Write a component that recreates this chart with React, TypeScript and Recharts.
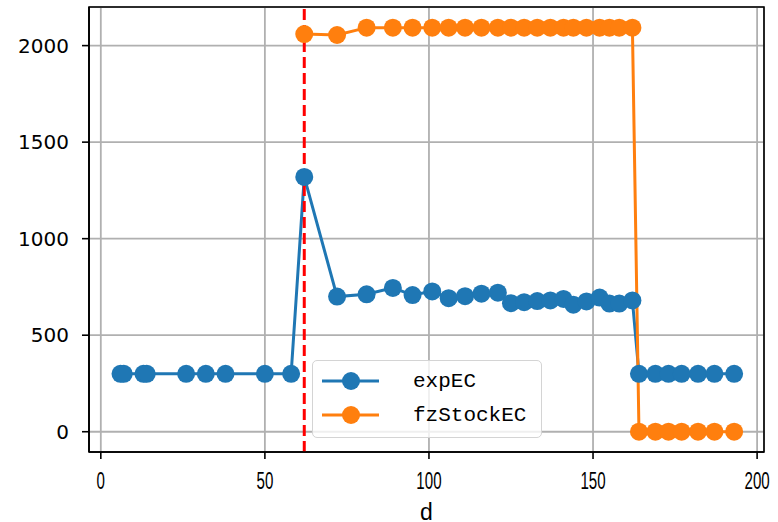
import React from "react";
import {
  LineChart, Line, XAxis, YAxis, CartesianGrid, ReferenceLine, ReferenceArea,
} from "recharts";

const days = [6, 7, 13, 14, 26, 32, 38, 50, 58, 62, 72, 81, 89, 95, 101, 106, 111, 116, 121, 125, 129, 133, 137, 141, 144, 148, 152, 155, 158, 162, 164, 169, 173, 177, 182, 187, 193];
const expEC = [300, 300, 300, 300, 300, 300, 300, 300, 300, 1320, 700, 712, 745, 708, 727, 692, 702, 715, 720, 666, 671, 677, 680, 688, 658, 675, 695, 664, 664, 680, 300, 300, 300, 300, 300, 300, 300];
const fzStockEC = [null, null, null, null, null, null, null, null, null, 2060, 2055, 2093, 2093, 2093, 2093, 2093, 2093, 2093, 2093, 2093, 2093, 2093, 2093, 2093, 2093, 2093, 2093, 2093, 2093, 2093, 0, 0, 0, 0, 0, 0, 0];
const xTicks = [0, 50, 100, 150, 200];
const yTicks = [0, 500, 1000, 1500, 2000];
const markDay = 62;

const X_DOMAIN: [number, number] = [-3.6, 202.1];
const Y_DOMAIN: [number, number] = [-105, 2200];

const BLUE = "#1f77b4";
const ORANGE = "#ff7f0e";

const data = days.map((d, i) => ({ d, expEC: expEC[i], fzStockEC: fzStockEC[i] }));

function XTick(props: any) {
  const { x, y, payload } = props;
  const label = String(payload.value);
  return (
    <text
      x={x}
      y={y + 28}
      textAnchor="middle"
      fontFamily="Liberation Sans Narrow, Liberation Sans, sans-serif"
      fontSize={23}
      fill="#000"
      textLength={label.length * 8.4}
      lengthAdjust="spacingAndGlyphs"
    >
      {label}
    </text>
  );
}

function LegendRow({ color, label }: { color: string; label: string }) {
  return (
    <div style={{ display: "flex", alignItems: "center", height: 34 }}>
      <svg width={100} height={34} style={{ display: "block" }}>
        <line x1={9} x2={66} y1={17} y2={17} stroke={color} strokeWidth={3} />
        <circle cx={38} cy={17} r={9} fill={color} />
      </svg>
      <span style={{ fontFamily: "Liberation Mono, DejaVu Sans Mono, monospace", fontSize: 21, color: "#000" }}>
        {label}
      </span>
    </div>
  );
}

export default function App() {
  return (
    <div style={{ position: "absolute", left: 0, top: 0, width: 778, height: 522, background: "#fff" }}>
      <LineChart width={778} height={522} data={data} margin={{ top: 7, right: 14, bottom: 0, left: 0 }}>
        <CartesianGrid stroke="#b0b0b0" strokeWidth={1.8} />
        <XAxis
          dataKey="d"
          type="number"
          domain={X_DOMAIN}
          ticks={xTicks}
          allowDataOverflow
          height={70}
          tick={<XTick />}
          tickSize={7}
          tickLine={{ stroke: "#000", strokeWidth: 1.6 }}
          axisLine={{ stroke: "#000", strokeWidth: 1.6 }}
          label={{ value: "d", position: "insideBottom", offset: 2, fontSize: 23, fill: "#000", fontFamily: "Liberation Sans Narrow, Liberation Sans, sans-serif" }}
        />
        <YAxis
          type="number"
          domain={Y_DOMAIN}
          ticks={yTicks}
          allowDataOverflow
          width={89}
          tickSize={7}
          tickMargin={13}
          tick={{ fill: "#000", fontSize: 20, fontFamily: "DejaVu Sans, sans-serif" }}
          tickLine={{ stroke: "#000", strokeWidth: 1.6 }}
          axisLine={{ stroke: "#000", strokeWidth: 1.6 }}
        />
        <Line
          dataKey="expEC"
          stroke={BLUE}
          strokeWidth={3}
          dot={{ r: 9, fill: BLUE, stroke: "none" }}
          activeDot={false}
          isAnimationActive={false}
        />
        <Line
          dataKey="fzStockEC"
          stroke={ORANGE}
          strokeWidth={3}
          dot={{ r: 9, fill: ORANGE, stroke: "none" }}
          activeDot={false}
          isAnimationActive={false}
        />
        <ReferenceLine x={markDay} stroke="#ff0000" strokeWidth={3} strokeDasharray="11 5" />
        <ReferenceArea
          x1={X_DOMAIN[0]}
          x2={X_DOMAIN[1]}
          y1={Y_DOMAIN[0]}
          y2={Y_DOMAIN[1]}
          fill="none"
          stroke="#000"
          strokeWidth={1.6}
        />
      </LineChart>
      <div
        style={{
          position: "absolute",
          left: 312,
          top: 360,
          width: 230,
          height: 78,
          boxSizing: "border-box",
          border: "1.5px solid #d4d4d4",
          borderRadius: 5,
          background: "rgba(255,255,255,0.8)",
          padding: "3px 0 0 0",
        }}
      >
        <LegendRow color={BLUE} label="expEC" />
        <LegendRow color={ORANGE} label="fzStockEC" />
      </div>
    </div>
  );
}
